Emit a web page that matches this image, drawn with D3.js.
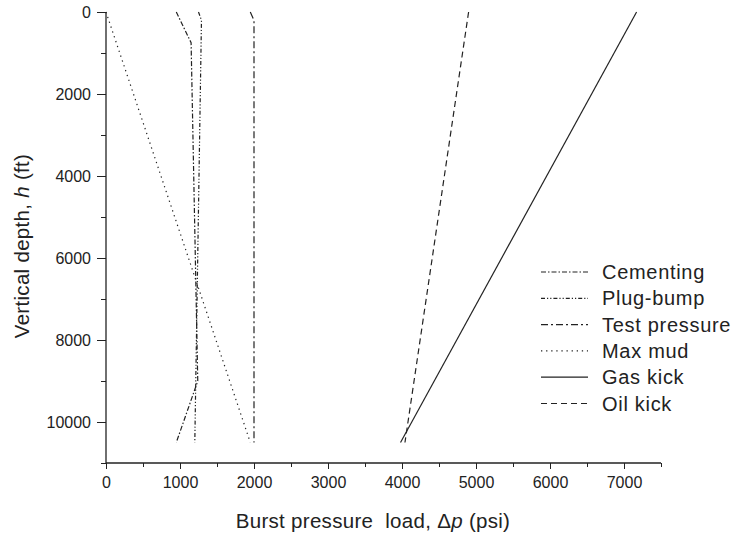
<!DOCTYPE html>
<html>
<head>
<meta charset="utf-8">
<script src="https://cdn.jsdelivr.net/npm/d3@7"></script>
<style>
 body{margin:0;background:#fff;}
 text{font-family:"Liberation Sans",Arial,sans-serif;fill:#222;}
</style>
</head>
<body>
<script>
// series: depth (ft) and burst load (psi)
var seriesNames = ["Cementing","Plug-bump","Test pressure","Max mud","Gas kick","Oil kick"]
var cementingDepth = [0, 750, 9000, 10500]
var cementingLoad  = [950, 1150, 1240, 950]
var plugDepth = [0, 200, 10500]
var plugLoad  = [1250, 1290, 1200]
var testDepth = [0, 200, 10500]
var testLoad  = [1950, 2000, 2000]
var mudDepth = [0, 10500]
var mudLoad  = [0, 1950]
var gasDepth = [0, 10500]
var gasLoad  = [7170, 3980]
var oilDepth = [0, 10500]
var oilLoad  = [4900, 4040]
var xTicks = [0,1000,2000,3000,4000,5000,6000,7000]
var yTicks = [0,2000,4000,6000,8000,10000]

var dashes = ["5,2,1.5,2","4,2,1.2,2,1.2,2","7,3,2,3","1.3,3.8",null,"6,4"]

var width = 736, height = 535
var svg = d3.select("body").append("svg")
  .attr("width",width).attr("height",height)

var x = d3.scaleLinear().domain([0,7500]).range([106,661])
var y = d3.scaleLinear().domain([0,11000]).range([12,463])

// x axis
var xMinor = d3.range(0,7501,500)
svg.append("g").attr("transform","translate(0,463)")
  .call(d3.axisBottom(x).tickValues(xMinor).tickSize(4).tickFormat(""))
  .call(g => g.select(".domain").remove())
  .selectAll("line").attr("stroke","#222")
svg.append("g").attr("transform","translate(0,463)")
  .call(d3.axisBottom(x).tickValues(xTicks).tickSize(6).tickPadding(8).tickFormat(d3.format("d")))
  .call(g => g.select(".domain").attr("d","M106,0H661").attr("stroke","#222").attr("stroke-width",1.3))
  .call(g => g.selectAll("line").attr("stroke","#222"))
  .selectAll("text").attr("font-size",16).attr("fill","#222").style("font-family","'Liberation Sans',Arial")

// y axis
var yMinor = d3.range(0,11001,1000)
svg.append("g").attr("transform","translate(106,0)")
  .call(d3.axisLeft(y).tickValues(yMinor).tickSize(5).tickFormat(""))
  .call(g => g.select(".domain").remove())
  .selectAll("line").attr("stroke","#222")
svg.append("g").attr("transform","translate(106,0)")
  .call(d3.axisLeft(y).tickValues(yTicks).tickSize(9).tickPadding(6).tickFormat(d3.format("d")))
  .call(g => g.select(".domain").attr("d","M0,12V463").attr("stroke","#222").attr("stroke-width",1.3))
  .call(g => g.selectAll("line").attr("stroke","#222"))
  .selectAll("text").attr("font-size",16).attr("fill","#222").style("font-family","'Liberation Sans',Arial")

// lines
var series = [
  [cementingDepth, cementingLoad],
  [plugDepth, plugLoad],
  [testDepth, testLoad],
  [mudDepth, mudLoad],
  [gasDepth, gasLoad],
  [oilDepth, oilLoad]
]
var line = d3.line().x(d => x(d[1])).y(d => y(d[0]))
series.forEach(function(s,i){
  var pts = s[0].map((d,j) => [d, s[1][j]])
  svg.append("path").datum(pts)
    .attr("d",line)
    .attr("fill","none")
    .attr("stroke","#222")
    .attr("stroke-width",1.2)
    .attr("stroke-dasharray",dashes[i])
})

// legend
var leg = svg.append("g")
seriesNames.forEach(function(n,i){
  var ly = 272 + i*26.3
  leg.append("line").attr("x1",541).attr("x2",588).attr("y1",ly).attr("y2",ly)
    .attr("stroke","#222").attr("stroke-width",1.2).attr("stroke-dasharray",dashes[i])
  leg.append("text").attr("x",602).attr("y",ly).attr("dy","0.35em")
    .attr("font-size",20).attr("letter-spacing","0.7px").text(n)
})

// axis titles
var xt = svg.append("text").attr("x",373).attr("y",528).attr("text-anchor","middle")
  .attr("font-size",20.5).attr("letter-spacing","0.3px").style("white-space","pre")
xt.append("tspan").text("Burst pressure  load, ")
xt.append("tspan").text("\u0394")
xt.append("tspan").attr("font-style","italic").text("p")
xt.append("tspan").text(" (psi)")

var yt = svg.append("text").attr("transform","translate(29,246) rotate(-90)").attr("text-anchor","middle")
  .attr("font-size",20.5).attr("letter-spacing","0.3px")
yt.append("tspan").text("Vertical depth, ")
yt.append("tspan").attr("font-style","italic").text("h")
yt.append("tspan").text(" (ft)")
</script>
</body>
</html>
